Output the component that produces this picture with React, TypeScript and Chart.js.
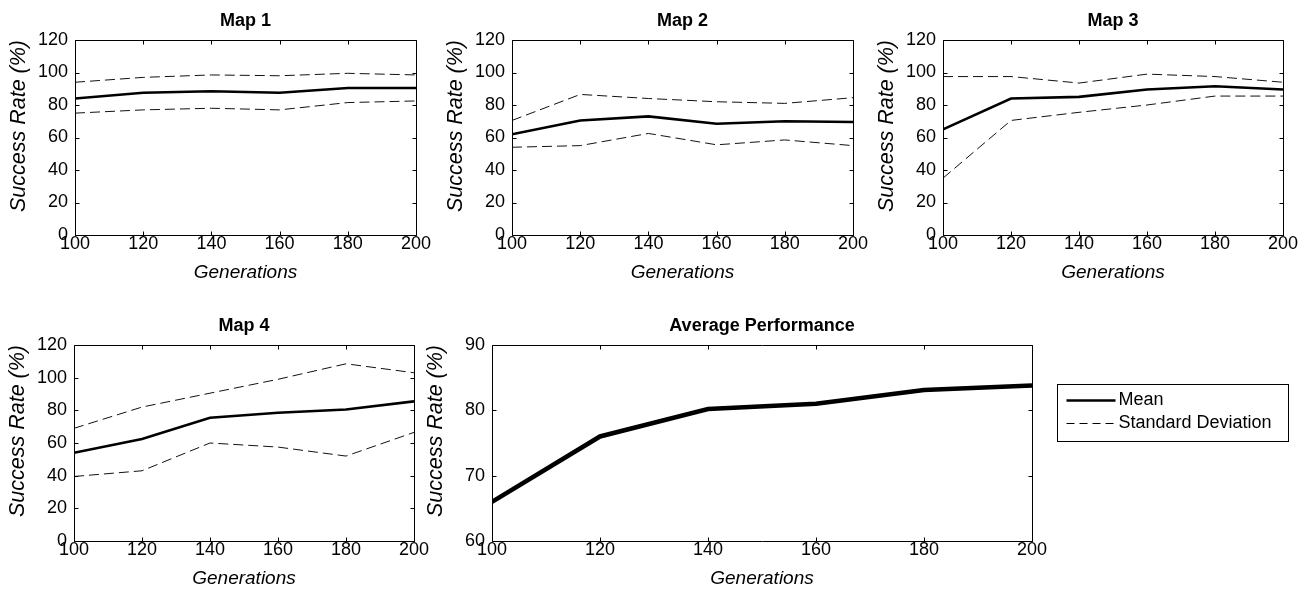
import React, { useEffect, useRef } from 'react';
import { Chart, registerables } from 'chart.js';

Chart.register(...registerables);

// ---------- data ----------
const generations = [100, 120, 140, 160, 180, 200];
const genTicks = [100, 120, 140, 160, 180, 200];
const mapTicks = [0, 20, 40, 60, 80, 100, 120];
const avgTicks = [60, 70, 80, 90];

const map1Mean = [84, 87.5, 88.5, 87.5, 90.5, 90.5];
const map1Upper = [94, 97, 98.5, 98, 99.5, 98.5];
const map1Lower = [75, 77, 78, 77, 81.5, 82.5];

const map2Mean = [62, 70.5, 73, 68.5, 70, 69.5];
const map2Upper = [70.5, 86.5, 84, 82, 81, 84.5];
const map2Lower = [54, 55, 62.5, 55.5, 58.5, 55];

const map3Mean = [65, 84, 85, 89.5, 91.5, 89.5];
const map3Upper = [97.5, 97.5, 93.5, 99, 97.5, 94];
const map3Lower = [35, 70.5, 75.5, 80, 85.5, 85.5];

const map4Mean = [54, 62.5, 75.5, 78.5, 80.5, 85.5];
const map4Upper = [69, 82, 90.5, 99, 108.5, 103];
const map4Lower = [39.5, 43, 60, 57.5, 52, 66.5];

const avgMean = [66, 76, 80.2, 81, 83.1, 83.8];

const legendLabels = ['Mean', 'Standard Deviation'];
const xTitle = 'Generations';
const yTitle = 'Success Rate (%)';

// ---------- layout ----------
const FONT = "'Liberation Sans', Arial, Helvetica, sans-serif";
const AXIS_W = 72;
const TITLE_H = 33;
const XAXIS_H = 50;
const RIGHT_PAD = 25;
const PAGE_W = 1313;

type PanelDef = {
  title: string;
  mean: number[];
  upper?: number[];
  lower?: number[];
  yTicks: number[];
  box: [number, number, number, number];
  meanWidth: number;
  legend?: boolean;
};

const panels: PanelDef[] = [
  { title: 'Map 1', mean: map1Mean, upper: map1Upper, lower: map1Lower, yTicks: mapTicks, box: [75, 40, 416, 235], meanWidth: 2.6 },
  { title: 'Map 2', mean: map2Mean, upper: map2Upper, lower: map2Lower, yTicks: mapTicks, box: [512, 40, 853, 235], meanWidth: 2.6 },
  { title: 'Map 3', mean: map3Mean, upper: map3Upper, lower: map3Lower, yTicks: mapTicks, box: [943, 40, 1283, 235], meanWidth: 2.6 },
  { title: 'Map 4', mean: map4Mean, upper: map4Upper, lower: map4Lower, yTicks: mapTicks, box: [74, 345, 414, 541], meanWidth: 2.6 },
  { title: 'Average Performance', mean: avgMean, yTicks: avgTicks, box: [492, 345, 1032, 541], meanWidth: 4.5, legend: true },
];

const toPoints = (ys: number[]) => generations.map((g, i) => ({ x: g, y: ys[i] }));

// frame with inward ticks on all four sides (MATLAB style box)
const framePlugin = {
  id: 'matFrame',
  afterDraw(chart: any) {
    const { ctx, chartArea, scales } = chart;
    const { left, right, top, bottom } = chartArea;
    const xs = scales.x;
    const ys = scales.y;
    const TL = 4;
    ctx.save();
    ctx.strokeStyle = '#000';
    ctx.lineWidth = 1;
    ctx.setLineDash([]);
    const l = Math.round(left) + 0.5;
    const r = Math.round(right) + 0.5;
    const t = Math.round(top) + 0.5;
    const b = Math.round(bottom) + 0.5;
    ctx.beginPath();
    ctx.rect(l, t, r - l, b - t);
    for (const tk of xs.ticks) {
      const px = Math.round(xs.getPixelForValue(tk.value)) + 0.5;
      ctx.moveTo(px, b);
      ctx.lineTo(px, b - TL);
      ctx.moveTo(px, t);
      ctx.lineTo(px, t + TL);
    }
    for (const tk of ys.ticks) {
      const py = Math.round(ys.getPixelForValue(tk.value)) + 0.5;
      ctx.moveTo(l, py);
      ctx.lineTo(l + TL, py);
      ctx.moveTo(r, py);
      ctx.lineTo(r - TL, py);
    }
    ctx.stroke();
    ctx.restore();
  },
};

// boxed legend drawn to the right of the average plot
const legendPlugin = {
  id: 'matLegend',
  afterDraw(chart: any, _args: any, opts: any) {
    if (!opts || !opts.show) return;
    const { ctx, chartArea } = chart;
    const x0 = Math.round(chartArea.right) + 25.5;
    const y0 = Math.round(chartArea.top) + 39.5;
    const w = 231;
    const h = 57;
    ctx.save();
    ctx.strokeStyle = '#000';
    ctx.lineWidth = 1;
    ctx.setLineDash([]);
    ctx.strokeRect(x0, y0, w, h);
    const styles = [
      { width: 2.6, dash: [] as number[] },
      { width: 1, dash: [8, 5] },
    ];
    legendLabels.forEach((label, i) => {
      const y = y0 + 16 + i * 23;
      ctx.beginPath();
      ctx.lineWidth = styles[i].width;
      ctx.setLineDash(styles[i].dash);
      ctx.moveTo(x0 + 9, y);
      ctx.lineTo(x0 + 58, y);
      ctx.stroke();
      ctx.setLineDash([]);
      ctx.fillStyle = '#000';
      ctx.font = `18px ${FONT}`;
      ctx.textBaseline = 'middle';
      ctx.textAlign = 'left';
      ctx.fillText(label, x0 + 61, y);
    });
    ctx.restore();
  },
};

function Panel({ p }: { p: PanelDef }) {
  const ref = useRef<HTMLCanvasElement>(null);
  const [L, T, R, B] = p.box;
  const canvasLeft = L - AXIS_W;
  const padRight = p.legend ? PAGE_W - canvasLeft - AXIS_W - (R - L) : RIGHT_PAD;
  const width = AXIS_W + (R - L) + padRight;
  const height = TITLE_H + (B - T) + XAXIS_H;

  useEffect(() => {
    const datasets: any[] = [
      {
        label: legendLabels[0],
        data: toPoints(p.mean),
        borderColor: '#000',
        borderWidth: p.meanWidth,
        pointRadius: 0,
        tension: 0,
        fill: false,
      },
    ];
    if (p.upper && p.lower) {
      for (const s of [p.upper, p.lower]) {
        datasets.push({
          label: legendLabels[1],
          data: toPoints(s),
          borderColor: '#111',
          borderWidth: 1,
          borderDash: [10, 5],
          pointRadius: 0,
          tension: 0,
          fill: false,
        });
      }
    }
    const yMin = p.yTicks[0];
    const yMax = p.yTicks[p.yTicks.length - 1];
    const chart = new Chart(ref.current as HTMLCanvasElement, {
      type: 'line',
      data: { datasets },
      plugins: [framePlugin, legendPlugin],
      options: {
        responsive: false,
        animation: false,
        devicePixelRatio: 1,
        layout: { padding: { left: 0, top: 0, bottom: 0, right: padRight } },
        plugins: {
          legend: { display: false },
          tooltip: { enabled: false },
          title: {
            display: true,
            text: p.title,
            fullSize: false,
            color: '#000',
            font: { family: FONT, size: 18, weight: 'bold', lineHeight: 1 },
            padding: { top: 5, bottom: 10 },
          },
          matLegend: { show: !!p.legend },
        } as any,
        scales: {
          x: {
            type: 'linear',
            min: 100,
            max: 200,
            afterBuildTicks: (s: any) => {
              s.ticks = genTicks.map((v) => ({ value: v }));
            },
            afterFit: (s: any) => {
              s.height = XAXIS_H;
            },
            grid: { display: false, drawTicks: false },
            border: { display: false },
            ticks: {
              color: '#000',
              padding: 0,
              autoSkip: false,
              maxRotation: 0,
              font: { family: FONT, size: 18, lineHeight: 1 },
            },
            title: {
              display: true,
              text: xTitle,
              color: '#000',
              font: { family: FONT, size: 19, style: 'italic', lineHeight: 1 },
              padding: { top: 0, bottom: 3 },
            },
          },
          y: {
            type: 'linear',
            min: yMin,
            max: yMax,
            afterBuildTicks: (s: any) => {
              s.ticks = p.yTicks.map((v) => ({ value: v }));
            },
            afterFit: (s: any) => {
              s.width = AXIS_W;
            },
            grid: { display: false, drawTicks: false },
            border: { display: false },
            ticks: {
              color: '#000',
              padding: 7,
              autoSkip: false,
              font: { family: FONT, size: 18, lineHeight: 1 },
            },
            title: {
              display: true,
              text: yTitle,
              align: 'end',
              color: '#000',
              font: { family: FONT, size: 21.5, style: 'italic', lineHeight: 1 },
              padding: { top: 5.5, bottom: 0 },
            },
          },
        },
      } as any,
    });
    return () => chart.destroy();
  }, []);

  return (
    <canvas
      ref={ref}
      width={width}
      height={height}
      style={{ position: 'absolute', left: canvasLeft, top: T - TITLE_H, width, height }}
    />
  );
}

export default function App() {
  return (
    <div
      style={{
        position: 'fixed',
        left: 0,
        top: 0,
        width: PAGE_W,
        height: 589,
        background: '#fff',
        overflow: 'hidden',
      }}
    >
      {panels.map((p) => (
        <Panel key={p.title} p={p} />
      ))}
    </div>
  );
}
